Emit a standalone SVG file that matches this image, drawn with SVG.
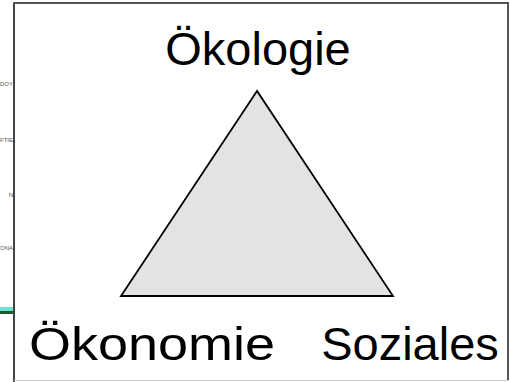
<svg xmlns="http://www.w3.org/2000/svg" width="510" height="382" viewBox="0 0 510 382">
  <style>
    .lbl { font-family: "Liberation Sans", Arial, sans-serif; font-size: 47px; fill: #000; text-anchor: middle; }
    .frag { font-family: "Liberation Sans", Arial, sans-serif; font-size: 6px; fill: #555; text-anchor: end; }
  </style>
  <rect x="0" y="0" width="510" height="382" fill="#fff"/>
  <g id="background">
    <text class="frag" x="13" y="86">DOY</text>
    <text class="frag" x="13" y="142">FTIE</text>
    <text class="frag" x="13" y="197">N</text>
    <text class="frag" x="13" y="250">ONA</text>
    <rect x="0" y="307" width="14" height="4" fill="#6fe3cf"/>
    <rect x="0" y="311" width="14" height="3" fill="#1d5a2c"/>
  </g>
  <g id="frame">
    <line x1="14" y1="3" x2="14" y2="382" stroke="#444" stroke-width="2"/>
    <line x1="13" y1="3" x2="509" y2="3" stroke="#555" stroke-width="2"/>
    <line x1="508" y1="3" x2="508" y2="380" stroke="#555" stroke-width="2"/>
    <line x1="14" y1="380.5" x2="509" y2="380.5" stroke="#ccc" stroke-width="1"/>
  </g>
  <g id="triangle">
    <polygon points="257,91 121,296 393,296" fill="#e3e3e3" stroke="#000" stroke-width="1.8" stroke-linejoin="miter"/>
  </g>
  <g id="oekologie"><text class="lbl" x="258" y="65">Ökologie</text></g>
  <g id="oekonomie"><text class="lbl" x="152" y="360" textLength="246" lengthAdjust="spacingAndGlyphs">Ökonomie</text></g>
  <g id="soziales"><text class="lbl" x="410" y="360">Soziales</text></g>
  <g id="connectors"></g>
</svg>
